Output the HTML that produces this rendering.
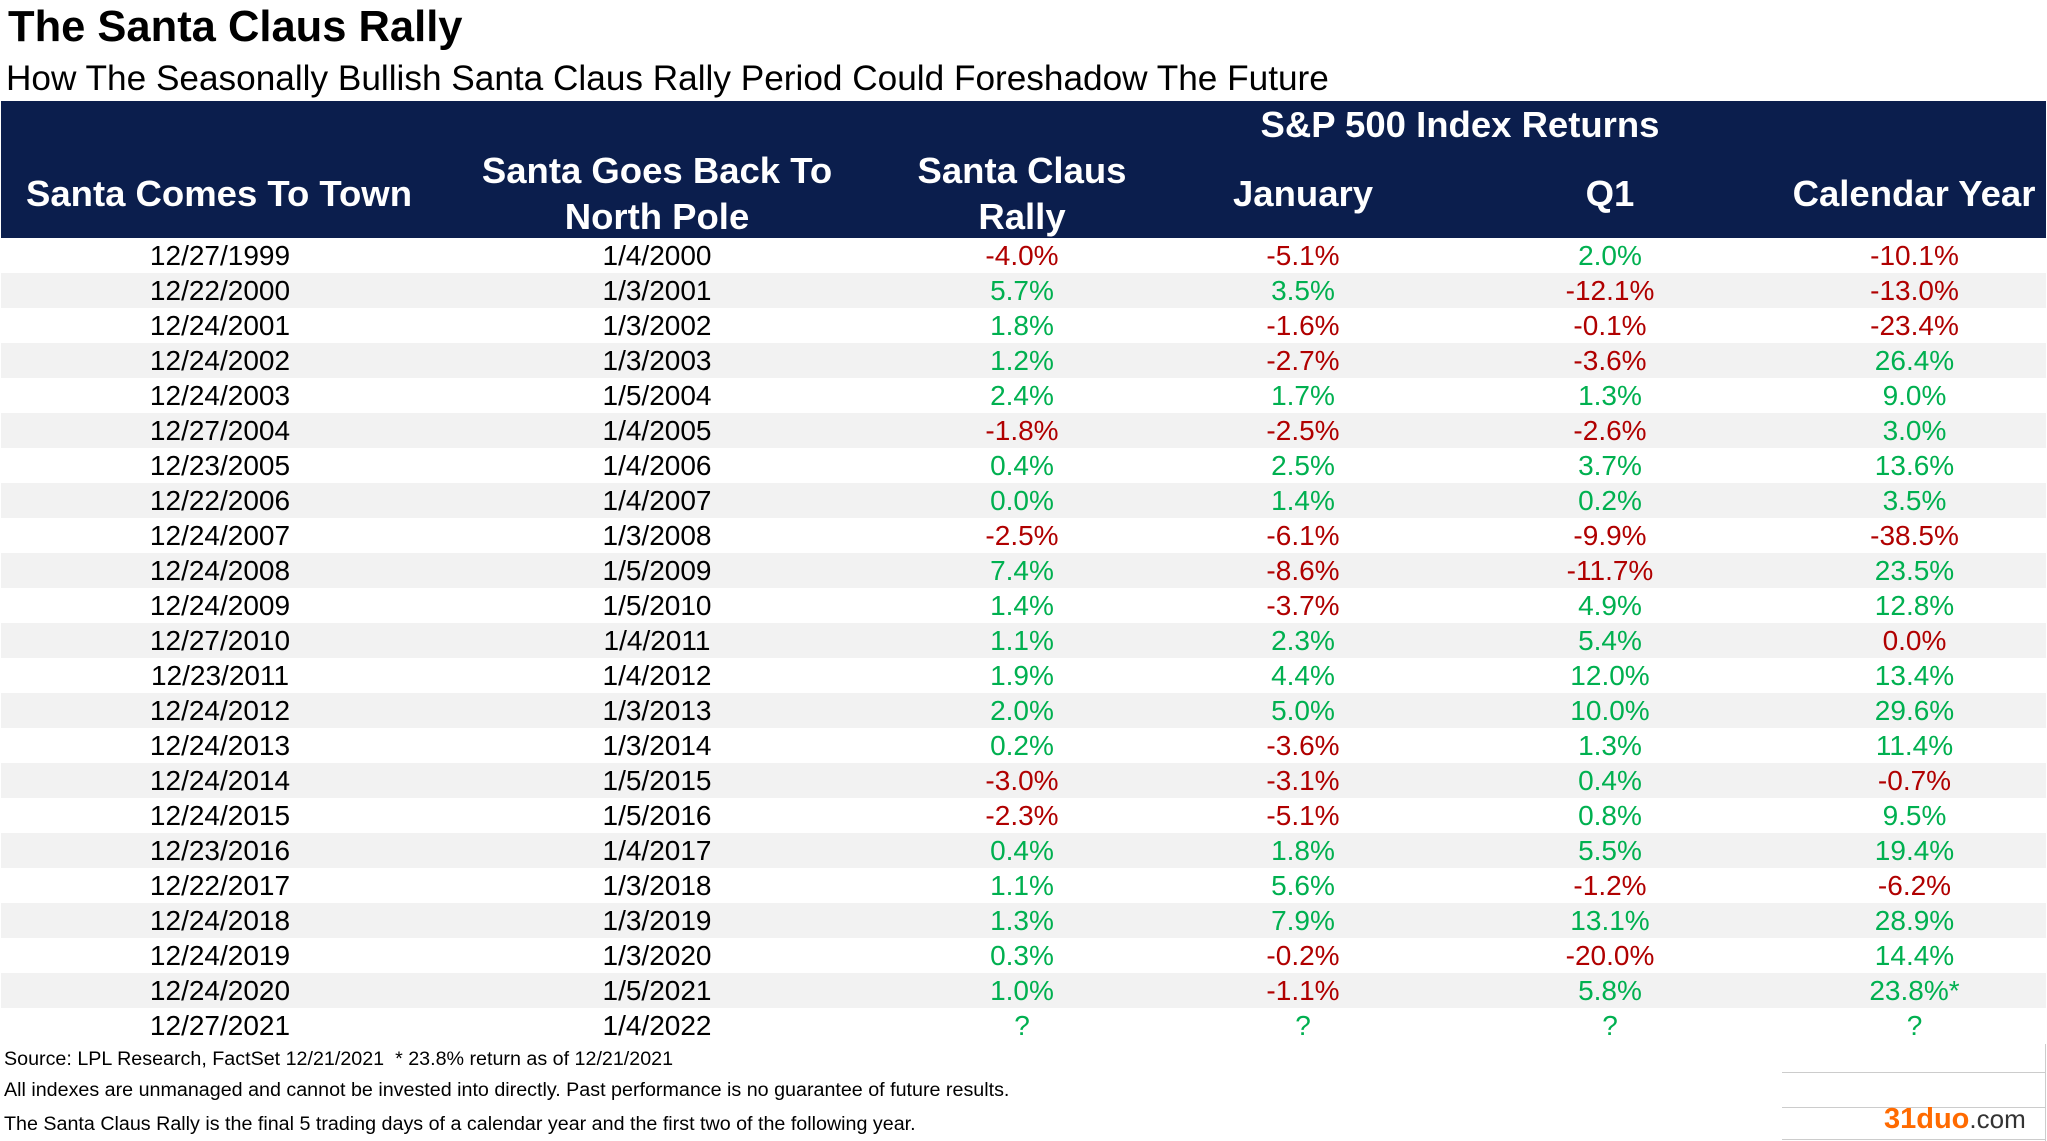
<!DOCTYPE html>
<html><head><meta charset="utf-8"><style>
body{margin:0;width:2047px;height:1141px;background:#fff;font-family:"Liberation Sans",Arial,sans-serif;position:relative;overflow:hidden}
.a{position:absolute;white-space:nowrap}
.hd{position:absolute;left:1px;top:101px;width:2045px;height:137px;background:#0b1e4d}
.h{position:absolute;color:#fff;font-weight:bold;font-size:36.5px;text-align:center;line-height:46px;transform:translateX(-50%);white-space:nowrap}
table{position:absolute;left:1px;top:238px;width:2045px;border-collapse:collapse;font-size:28px}
td{height:34px;padding:1px 0 0 0;text-align:center;line-height:34px;overflow:hidden}
tr:nth-child(even) td{background:#f2f2f2}
.r{color:#b00000}.g{color:#00b050}
.f{font-size:19.7px;left:4px}
</style></head><body>
<div class="a" style="left:8px;top:3px;font-size:43.5px;font-weight:bold">The Santa Claus Rally</div>
<div class="a" style="left:6px;top:59px;font-size:35.2px">How The Seasonally Bullish Santa Claus Rally Period Could Foreshadow The Future</div>
<div class="hd"></div>
<div class="h" style="left:1460px;top:102px">S&amp;P 500 Index Returns</div>
<div class="h" style="left:219px;top:171px">Santa Comes To Town</div>
<div class="h" style="left:657px;top:148px">Santa Goes Back To<br>North Pole</div>
<div class="h" style="left:1022px;top:148px">Santa Claus<br>Rally</div>
<div class="h" style="left:1303px;top:171px">January</div>
<div class="h" style="left:1610px;top:171px">Q1</div>
<div class="h" style="left:1914px;top:171px">Calendar Year</div>
<table>
<colgroup><col style="width:438px"><col style="width:436px"><col style="width:294px"><col style="width:268px"><col style="width:346px"><col></colgroup>
<tr><td>12/27/1999</td><td>1/4/2000</td><td class="r">-4.0%</td><td class="r">-5.1%</td><td class="g">2.0%</td><td class="r">-10.1%</td></tr>
<tr><td>12/22/2000</td><td>1/3/2001</td><td class="g">5.7%</td><td class="g">3.5%</td><td class="r">-12.1%</td><td class="r">-13.0%</td></tr>
<tr><td>12/24/2001</td><td>1/3/2002</td><td class="g">1.8%</td><td class="r">-1.6%</td><td class="r">-0.1%</td><td class="r">-23.4%</td></tr>
<tr><td>12/24/2002</td><td>1/3/2003</td><td class="g">1.2%</td><td class="r">-2.7%</td><td class="r">-3.6%</td><td class="g">26.4%</td></tr>
<tr><td>12/24/2003</td><td>1/5/2004</td><td class="g">2.4%</td><td class="g">1.7%</td><td class="g">1.3%</td><td class="g">9.0%</td></tr>
<tr><td>12/27/2004</td><td>1/4/2005</td><td class="r">-1.8%</td><td class="r">-2.5%</td><td class="r">-2.6%</td><td class="g">3.0%</td></tr>
<tr><td>12/23/2005</td><td>1/4/2006</td><td class="g">0.4%</td><td class="g">2.5%</td><td class="g">3.7%</td><td class="g">13.6%</td></tr>
<tr><td>12/22/2006</td><td>1/4/2007</td><td class="g">0.0%</td><td class="g">1.4%</td><td class="g">0.2%</td><td class="g">3.5%</td></tr>
<tr><td>12/24/2007</td><td>1/3/2008</td><td class="r">-2.5%</td><td class="r">-6.1%</td><td class="r">-9.9%</td><td class="r">-38.5%</td></tr>
<tr><td>12/24/2008</td><td>1/5/2009</td><td class="g">7.4%</td><td class="r">-8.6%</td><td class="r">-11.7%</td><td class="g">23.5%</td></tr>
<tr><td>12/24/2009</td><td>1/5/2010</td><td class="g">1.4%</td><td class="r">-3.7%</td><td class="g">4.9%</td><td class="g">12.8%</td></tr>
<tr><td>12/27/2010</td><td>1/4/2011</td><td class="g">1.1%</td><td class="g">2.3%</td><td class="g">5.4%</td><td class="r">0.0%</td></tr>
<tr><td>12/23/2011</td><td>1/4/2012</td><td class="g">1.9%</td><td class="g">4.4%</td><td class="g">12.0%</td><td class="g">13.4%</td></tr>
<tr><td>12/24/2012</td><td>1/3/2013</td><td class="g">2.0%</td><td class="g">5.0%</td><td class="g">10.0%</td><td class="g">29.6%</td></tr>
<tr><td>12/24/2013</td><td>1/3/2014</td><td class="g">0.2%</td><td class="r">-3.6%</td><td class="g">1.3%</td><td class="g">11.4%</td></tr>
<tr><td>12/24/2014</td><td>1/5/2015</td><td class="r">-3.0%</td><td class="r">-3.1%</td><td class="g">0.4%</td><td class="r">-0.7%</td></tr>
<tr><td>12/24/2015</td><td>1/5/2016</td><td class="r">-2.3%</td><td class="r">-5.1%</td><td class="g">0.8%</td><td class="g">9.5%</td></tr>
<tr><td>12/23/2016</td><td>1/4/2017</td><td class="g">0.4%</td><td class="g">1.8%</td><td class="g">5.5%</td><td class="g">19.4%</td></tr>
<tr><td>12/22/2017</td><td>1/3/2018</td><td class="g">1.1%</td><td class="g">5.6%</td><td class="r">-1.2%</td><td class="r">-6.2%</td></tr>
<tr><td>12/24/2018</td><td>1/3/2019</td><td class="g">1.3%</td><td class="g">7.9%</td><td class="g">13.1%</td><td class="g">28.9%</td></tr>
<tr><td>12/24/2019</td><td>1/3/2020</td><td class="g">0.3%</td><td class="r">-0.2%</td><td class="r">-20.0%</td><td class="g">14.4%</td></tr>
<tr><td>12/24/2020</td><td>1/5/2021</td><td class="g">1.0%</td><td class="r">-1.1%</td><td class="g">5.8%</td><td class="g">23.8%*</td></tr>
<tr><td>12/27/2021</td><td>1/4/2022</td><td class="g">?</td><td class="g">?</td><td class="g">?</td><td class="g">?</td></tr>
</table>
<div class="a f" style="top:1048px">Source: LPL Research, FactSet 12/21/2021&nbsp; * 23.8% return as of 12/21/2021</div>
<div class="a f" style="top:1079px">All indexes are unmanaged and cannot be invested into directly. Past performance is no guarantee of future results.</div>
<div class="a f" style="top:1113px">The Santa Claus Rally is the final 5 trading days of a calendar year and the first two of the following year.</div>
<div class="a" style="left:1782px;top:1072px;width:264px;height:1px;background:#ccc"></div>
<div class="a" style="left:1782px;top:1107px;width:264px;height:1px;background:#ccc"></div>
<div class="a" style="left:1782px;top:1139px;width:264px;height:1px;background:#ccc"></div>
<div class="a" style="left:2045px;top:1044px;width:1px;height:97px;background:#ccc"></div>
<div class="a" style="left:1884px;top:1103px;font-size:29px;font-weight:bold;color:#ff6a00">31duo<span style="color:#333;font-weight:normal;font-size:26px">.com</span></div>
</body></html>
